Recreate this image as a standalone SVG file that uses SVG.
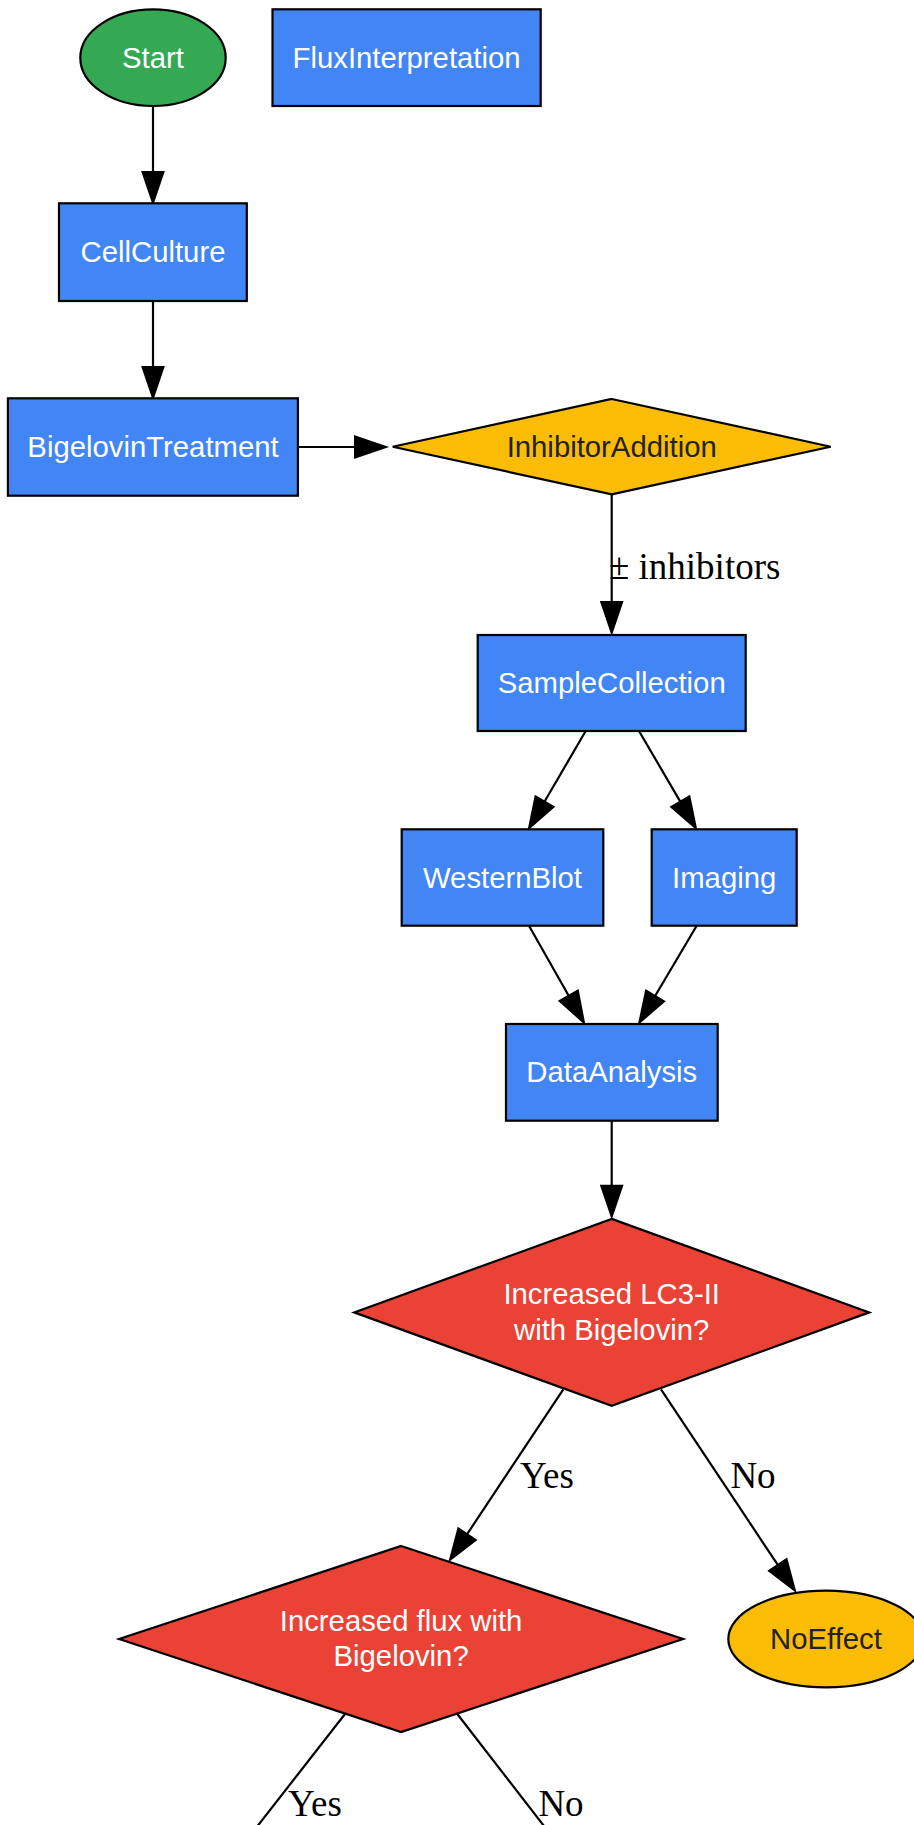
<svg xmlns="http://www.w3.org/2000/svg" width="914" height="1825" viewBox="0 0 914 1825">
<style>
.n{stroke:#000;stroke-width:2.2}
.blue{fill:#4285F4}
.green{fill:#34A853}
.yellow{fill:#FBBC05}
.red{fill:#EA4335}
.t{font-family:"Liberation Sans",Arial,sans-serif;font-size:29.3px;text-anchor:middle;fill:#fff}
.dk{fill:#222222}
.e{stroke:#000;stroke-width:2.2;fill:none}
.lbl{font-family:"Liberation Serif","Times New Roman",serif;font-size:37px;fill:#000}
</style>
<defs>
<marker id="ah" markerUnits="userSpaceOnUse" markerWidth="34" markerHeight="26" viewBox="-1 -13 34 26" refX="0" refY="0" orient="auto" overflow="visible">
<path d="M0,-10.5 L31,0 L0,10.5 Z" fill="#000" stroke="#000" stroke-width="2"/>
</marker>
</defs>
<rect width="914" height="1825" fill="#fff"/>
<g id="connectors">
<line class="e" x1="153" y1="106" x2="153" y2="172" marker-end="url(#ah)"/>
<line class="e" x1="153" y1="301" x2="153" y2="367" marker-end="url(#ah)"/>
<line class="e" x1="297" y1="447" x2="355" y2="447" marker-end="url(#ah)"/>
<line class="e" x1="611.7" y1="494.5" x2="611.7" y2="602" marker-end="url(#ah)"/>
<line class="e" x1="585.7" y1="731" x2="544.6" y2="801.5" marker-end="url(#ah)"/>
<line class="e" x1="639" y1="731" x2="680.3" y2="801.6" marker-end="url(#ah)"/>
<line class="e" x1="529" y1="925.7" x2="568.7" y2="995.7" marker-end="url(#ah)"/>
<line class="e" x1="696.7" y1="925.7" x2="655.1" y2="996" marker-end="url(#ah)"/>
<line class="e" x1="611.7" y1="1120.7" x2="611.7" y2="1185.7" marker-end="url(#ah)"/>
<line class="e" x1="563.3" y1="1389.3" x2="467.1" y2="1534.2" marker-end="url(#ah)"/>
<line class="e" x1="661" y1="1389.3" x2="777.8" y2="1564.9" marker-end="url(#ah)"/>
<line class="e" x1="345" y1="1714" x2="231" y2="1860"/>
<line class="e" x1="457.3" y1="1714" x2="570.3" y2="1860"/>
<text class="lbl" x="609" y="579">± inhibitors</text>
<text class="lbl" x="547" y="1488" text-anchor="middle">Yes</text>
<text class="lbl" x="753" y="1488" text-anchor="middle">No</text>
<text class="lbl" x="315" y="1816" text-anchor="middle">Yes</text>
<text class="lbl" x="561" y="1816" text-anchor="middle">No</text>
</g>
<g id="Start">
<ellipse class="n green" cx="153" cy="57.7" rx="72.7" ry="48.3"/>
<text class="t" x="153" y="68">Start</text>
</g>
<g id="FluxInterpretation">
<rect class="n blue" x="272.5" y="9.3" width="268.2" height="96.7"/>
<text class="t" x="406.6" y="68">FluxInterpretation</text>
</g>
<g id="CellCulture">
<rect class="n blue" x="59" y="203.3" width="187.8" height="97.7"/>
<text class="t" x="153" y="262">CellCulture</text>
</g>
<g id="BigelovinTreatment">
<rect class="n blue" x="7.9" y="398.3" width="290" height="97.4"/>
<text class="t" x="153" y="457">BigelovinTreatment</text>
</g>
<g id="InhibitorAddition">
<polygon class="n yellow" points="611.7,399 830.7,446.7 611.7,494.4 392.7,446.7"/>
<text class="t dk" x="611.7" y="457">InhibitorAddition</text>
</g>
<g id="SampleCollection">
<rect class="n blue" x="477.7" y="635" width="268" height="96"/>
<text class="t" x="611.7" y="693">SampleCollection</text>
</g>
<g id="WesternBlot">
<rect class="n blue" x="401.7" y="829.3" width="201.6" height="96.4"/>
<text class="t" x="502.5" y="888">WesternBlot</text>
</g>
<g id="Imaging">
<rect class="n blue" x="651.7" y="829.3" width="145" height="96.4"/>
<text class="t" x="724.2" y="888">Imaging</text>
</g>
<g id="DataAnalysis">
<rect class="n blue" x="506" y="1024" width="211.7" height="96.7"/>
<text class="t" x="611.8" y="1082">DataAnalysis</text>
</g>
<g id="LC3Decision">
<polygon class="n red" points="611.7,1218.9 869.2,1312.4 611.7,1405.9 354.2,1312.4"/>
<text class="t" x="611.7" y="1304.4">Increased LC3-II</text>
<text class="t" x="611.7" y="1339.6">with Bigelovin?</text>
</g>
<g id="FluxDecision">
<polygon class="n red" points="401.1,1546 683.1,1639 401.1,1732 119.1,1639"/>
<text class="t" x="401.1" y="1631">Increased flux with</text>
<text class="t" x="401.1" y="1666">Bigelovin?</text>
</g>
<g id="NoEffect">
<ellipse class="n yellow" cx="826" cy="1639" rx="97.7" ry="48.3"/>
<text class="t dk" x="826" y="1649">NoEffect</text>
</g>
</svg>
